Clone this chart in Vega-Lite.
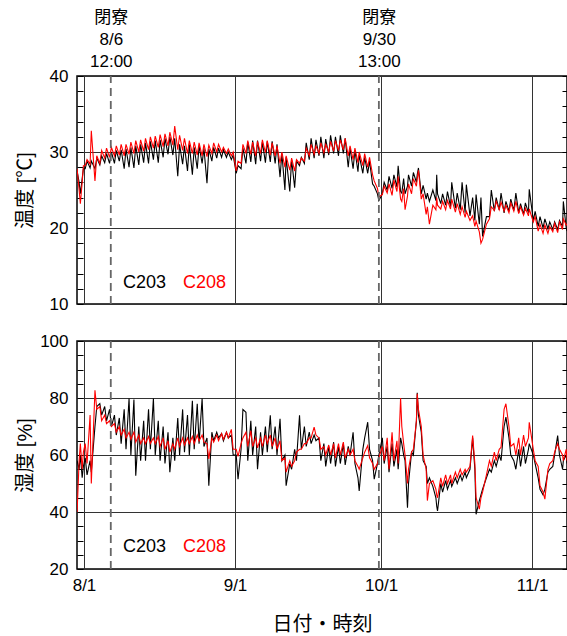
{
"$schema":"https://vega.github.io/schema/vega-lite/v6.json",
"padding":{"left":14,"top":7,"right":0,"bottom":5},
"spacing":37,
"bounds":"flush",
"config":{
 "font":"Liberation Sans, Noto Sans CJK JP, sans-serif",
 "view":{"stroke":"#000","strokeWidth":1.5},
 "axis":{"labelFontSize":17,"titleFontSize":20,"labelColor":"#000","titleColor":"#000","titleFontWeight":"normal","tickColor":"#000","tickWidth":1,"gridColor":"#333","gridWidth":1,"gridOpacity":1,"labelFlush":false,"labelOverlap":false}
},
"data":{"values":[
{"t":"2023-07-30T14:00","s":"C203","T":27.5,"H":58},{"t":"2023-07-30T14:00","s":"C208","T":27.8,"H":40},
{"t":"2023-07-31T00:00","s":"C203","T":26,"H":55},{"t":"2023-07-31T00:00","s":"C208","T":25,"H":58},
{"t":"2023-07-31T06:00","s":"C203","T":24.5,"H":60},{"t":"2023-07-31T06:00","s":"C208","T":23.2,"H":64},
{"t":"2023-07-31T15:00","s":"C203","T":26.5,"H":52},{"t":"2023-07-31T15:00","s":"C208","T":26,"H":55},
{"t":"2023-07-31T21:00","s":"C203","T":27.8,"H":56},{"t":"2023-07-31T21:00","s":"C208","T":28.2,"H":61},
{"t":"2023-08-01T06:00","s":"C203","T":27.8,"H":59},{"t":"2023-08-01T06:00","s":"C208","T":28.2,"H":64},
{"t":"2023-08-01T15:00","s":"C203","T":28.8,"H":53},{"t":"2023-08-01T15:00","s":"C208","T":29,"H":57},
{"t":"2023-08-02T06:00","s":"C203","T":27.9,"H":58},{"t":"2023-08-02T06:00","s":"C208","T":28.4,"H":74},
{"t":"2023-08-02T12:00","s":"C203","T":28.8,"H":54},{"t":"2023-08-02T12:00","s":"C208","T":32.8,"H":50},
{"t":"2023-08-03T06:00","s":"C203","T":27.8,"H":70},{"t":"2023-08-03T06:00","s":"C208","T":26.2,"H":82.7},
{"t":"2023-08-03T15:00","s":"C203","T":29.2,"H":77},{"t":"2023-08-03T15:00","s":"C208","T":29.5,"H":76},
{"t":"2023-08-04T06:00","s":"C203","T":28.3,"H":78},{"t":"2023-08-04T06:00","s":"C208","T":28.5,"H":77},
{"t":"2023-08-04T15:00","s":"C203","T":29.5,"H":74},{"t":"2023-08-04T15:00","s":"C208","T":30.2,"H":72},
{"t":"2023-08-05T06:00","s":"C203","T":28.6,"H":77},{"t":"2023-08-05T06:00","s":"C208","T":29.2,"H":74},
{"t":"2023-08-05T15:00","s":"C203","T":29.8,"H":72},{"t":"2023-08-05T15:00","s":"C208","T":30.5,"H":71},
{"t":"2023-08-06T06:00","s":"C203","T":28.5,"H":76},{"t":"2023-08-06T06:00","s":"C208","T":29.3,"H":72},
{"t":"2023-08-06T15:00","s":"C203","T":30,"H":70},{"t":"2023-08-06T15:00","s":"C208","T":30.6,"H":70},
{"t":"2023-08-07T06:00","s":"C203","T":28.5,"H":74},{"t":"2023-08-07T06:00","s":"C208","T":29.5,"H":71},
{"t":"2023-08-07T15:00","s":"C203","T":30.2,"H":67},{"t":"2023-08-07T15:00","s":"C208","T":30.8,"H":68},
{"t":"2023-08-08T06:00","s":"C203","T":28.8,"H":73},{"t":"2023-08-08T06:00","s":"C208","T":29.6,"H":70},
{"t":"2023-08-08T15:00","s":"C203","T":30.3,"H":64},{"t":"2023-08-08T15:00","s":"C208","T":31,"H":67},
{"t":"2023-08-09T06:00","s":"C203","T":27.8,"H":76},{"t":"2023-08-09T06:00","s":"C208","T":29.5,"H":69},
{"t":"2023-08-09T15:00","s":"C203","T":30.4,"H":62},{"t":"2023-08-09T15:00","s":"C208","T":31,"H":66},
{"t":"2023-08-10T06:00","s":"C203","T":28,"H":79.8},{"t":"2023-08-10T06:00","s":"C208","T":29.7,"H":68},
{"t":"2023-08-10T15:00","s":"C203","T":30.6,"H":60},{"t":"2023-08-10T15:00","s":"C208","T":31.3,"H":65.5},
{"t":"2023-08-11T06:00","s":"C203","T":27.9,"H":79.5},{"t":"2023-08-11T06:00","s":"C208","T":29.8,"H":68},
{"t":"2023-08-11T15:00","s":"C203","T":30.8,"H":52.7},{"t":"2023-08-11T15:00","s":"C208","T":31.5,"H":64.5},
{"t":"2023-08-12T06:00","s":"C203","T":28.3,"H":70},{"t":"2023-08-12T06:00","s":"C208","T":30,"H":67},
{"t":"2023-08-12T15:00","s":"C203","T":31,"H":58},{"t":"2023-08-12T15:00","s":"C208","T":31.6,"H":64},
{"t":"2023-08-13T06:00","s":"C203","T":28.6,"H":72},{"t":"2023-08-13T06:00","s":"C208","T":30.1,"H":66},
{"t":"2023-08-13T15:00","s":"C203","T":31.2,"H":58},{"t":"2023-08-13T15:00","s":"C208","T":31.8,"H":64},
{"t":"2023-08-14T06:00","s":"C203","T":28.5,"H":76},{"t":"2023-08-14T06:00","s":"C208","T":30.3,"H":66.5},
{"t":"2023-08-14T15:00","s":"C203","T":31.4,"H":62},{"t":"2023-08-14T15:00","s":"C208","T":32,"H":64},
{"t":"2023-08-15T06:00","s":"C203","T":29,"H":79.8},{"t":"2023-08-15T06:00","s":"C208","T":30.5,"H":66},
{"t":"2023-08-15T15:00","s":"C203","T":31.5,"H":60},{"t":"2023-08-15T15:00","s":"C208","T":32.1,"H":64},
{"t":"2023-08-16T06:00","s":"C203","T":28.6,"H":72},{"t":"2023-08-16T06:00","s":"C208","T":30.6,"H":66.5},
{"t":"2023-08-16T15:00","s":"C203","T":31.6,"H":58},{"t":"2023-08-16T15:00","s":"C208","T":32.3,"H":63},
{"t":"2023-08-17T06:00","s":"C203","T":29.3,"H":70},{"t":"2023-08-17T06:00","s":"C208","T":30.7,"H":66},
{"t":"2023-08-17T15:00","s":"C203","T":31.8,"H":57},{"t":"2023-08-17T15:00","s":"C208","T":32.4,"H":62},
{"t":"2023-08-18T06:00","s":"C203","T":29.7,"H":68},{"t":"2023-08-18T06:00","s":"C208","T":30.8,"H":65},
{"t":"2023-08-18T15:00","s":"C203","T":32,"H":54},{"t":"2023-08-18T15:00","s":"C208","T":32.6,"H":61},
{"t":"2023-08-19T06:00","s":"C203","T":29.6,"H":66},{"t":"2023-08-19T06:00","s":"C208","T":30.9,"H":64},
{"t":"2023-08-19T15:00","s":"C203","T":31.8,"H":58},{"t":"2023-08-19T15:00","s":"C208","T":33.4,"H":62},
{"t":"2023-08-20T06:00","s":"C203","T":26.8,"H":73},{"t":"2023-08-20T06:00","s":"C208","T":30.3,"H":66},
{"t":"2023-08-20T15:00","s":"C203","T":31,"H":60},{"t":"2023-08-20T15:00","s":"C208","T":32.2,"H":63},
{"t":"2023-08-21T06:00","s":"C203","T":28.4,"H":76},{"t":"2023-08-21T06:00","s":"C208","T":30.2,"H":66},
{"t":"2023-08-21T15:00","s":"C203","T":30.8,"H":61},{"t":"2023-08-21T15:00","s":"C208","T":31.8,"H":63.5},
{"t":"2023-08-22T06:00","s":"C203","T":27.5,"H":74},{"t":"2023-08-22T06:00","s":"C208","T":29.8,"H":66},
{"t":"2023-08-22T15:00","s":"C203","T":31,"H":60},{"t":"2023-08-22T15:00","s":"C208","T":31.5,"H":64},
{"t":"2023-08-23T06:00","s":"C203","T":27,"H":79},{"t":"2023-08-23T06:00","s":"C208","T":29.8,"H":66.5},
{"t":"2023-08-23T15:00","s":"C203","T":30.6,"H":62},{"t":"2023-08-23T15:00","s":"C208","T":31.3,"H":64},
{"t":"2023-08-24T06:00","s":"C203","T":27.8,"H":78},{"t":"2023-08-24T06:00","s":"C208","T":29.6,"H":67},
{"t":"2023-08-24T15:00","s":"C203","T":30.8,"H":64},{"t":"2023-08-24T15:00","s":"C208","T":31.2,"H":65},
{"t":"2023-08-25T06:00","s":"C203","T":28.5,"H":79.8},{"t":"2023-08-25T06:00","s":"C208","T":29.5,"H":67},
{"t":"2023-08-25T15:00","s":"C203","T":30.5,"H":63},{"t":"2023-08-25T15:00","s":"C208","T":31,"H":64.5},
{"t":"2023-08-26T06:00","s":"C203","T":25.9,"H":66},{"t":"2023-08-26T06:00","s":"C208","T":29.4,"H":64},
{"t":"2023-08-26T15:00","s":"C203","T":30.4,"H":49.2},{"t":"2023-08-26T15:00","s":"C208","T":30.9,"H":58.6},
{"t":"2023-08-27T06:00","s":"C203","T":28.8,"H":68},{"t":"2023-08-27T06:00","s":"C208","T":29.8,"H":66},
{"t":"2023-08-27T15:00","s":"C203","T":30.6,"H":65},{"t":"2023-08-27T15:00","s":"C208","T":31.2,"H":64.5},
{"t":"2023-08-28T06:00","s":"C203","T":29.2,"H":68},{"t":"2023-08-28T06:00","s":"C208","T":30,"H":67},
{"t":"2023-08-28T15:00","s":"C203","T":30.5,"H":66},{"t":"2023-08-28T15:00","s":"C208","T":31,"H":65},
{"t":"2023-08-29T06:00","s":"C203","T":29.3,"H":67.5},{"t":"2023-08-29T06:00","s":"C208","T":30,"H":67.5},
{"t":"2023-08-29T15:00","s":"C203","T":30.3,"H":65},{"t":"2023-08-29T15:00","s":"C208","T":30.6,"H":65.5},
{"t":"2023-08-30T06:00","s":"C203","T":29.3,"H":68},{"t":"2023-08-30T06:00","s":"C208","T":29.8,"H":68},
{"t":"2023-08-30T15:00","s":"C203","T":30,"H":66},{"t":"2023-08-30T15:00","s":"C208","T":30.4,"H":66},
{"t":"2023-08-31T06:00","s":"C203","T":29,"H":67},{"t":"2023-08-31T06:00","s":"C208","T":29.5,"H":69},
{"t":"2023-08-31T15:00","s":"C203","T":29.6,"H":60},{"t":"2023-08-31T15:00","s":"C208","T":30,"H":62},
{"t":"2023-09-01T06:00","s":"C203","T":27.2,"H":60},{"t":"2023-09-01T06:00","s":"C208","T":27.5,"H":62},
{"t":"2023-09-01T15:00","s":"C203","T":28.2,"H":51.5},{"t":"2023-09-01T15:00","s":"C208","T":28.8,"H":59.5},
{"t":"2023-09-02T06:00","s":"C203","T":27.8,"H":62},{"t":"2023-09-02T06:00","s":"C208","T":28.5,"H":64},
{"t":"2023-09-02T15:00","s":"C203","T":30.5,"H":76},{"t":"2023-09-02T15:00","s":"C208","T":31,"H":66},
{"t":"2023-09-03T06:00","s":"C203","T":28.5,"H":75},{"t":"2023-09-03T06:00","s":"C208","T":29.8,"H":68},
{"t":"2023-09-03T15:00","s":"C203","T":31.3,"H":58},{"t":"2023-09-03T15:00","s":"C208","T":31.5,"H":63},
{"t":"2023-09-04T06:00","s":"C203","T":28.7,"H":72},{"t":"2023-09-04T06:00","s":"C208","T":29.7,"H":68.5},
{"t":"2023-09-04T15:00","s":"C203","T":31.5,"H":60},{"t":"2023-09-04T15:00","s":"C208","T":31.3,"H":63},
{"t":"2023-09-05T06:00","s":"C203","T":28.4,"H":70},{"t":"2023-09-05T06:00","s":"C208","T":29.5,"H":66},
{"t":"2023-09-05T15:00","s":"C203","T":31.5,"H":55},{"t":"2023-09-05T15:00","s":"C208","T":31.4,"H":62.5},
{"t":"2023-09-06T06:00","s":"C203","T":28.8,"H":68},{"t":"2023-09-06T06:00","s":"C208","T":29.8,"H":66},
{"t":"2023-09-06T15:00","s":"C203","T":31.3,"H":60},{"t":"2023-09-06T15:00","s":"C208","T":31.6,"H":63},
{"t":"2023-09-07T06:00","s":"C203","T":28.6,"H":70},{"t":"2023-09-07T06:00","s":"C208","T":29.9,"H":67},
{"t":"2023-09-07T15:00","s":"C203","T":31.4,"H":61},{"t":"2023-09-07T15:00","s":"C208","T":31.5,"H":64},
{"t":"2023-09-08T06:00","s":"C203","T":28.7,"H":73.9},{"t":"2023-09-08T06:00","s":"C208","T":29.6,"H":67},
{"t":"2023-09-08T15:00","s":"C203","T":31.4,"H":62},{"t":"2023-09-08T15:00","s":"C208","T":31.2,"H":63},
{"t":"2023-09-09T06:00","s":"C203","T":28.5,"H":70},{"t":"2023-09-09T06:00","s":"C208","T":29.5,"H":66},
{"t":"2023-09-09T15:00","s":"C203","T":31,"H":60},{"t":"2023-09-09T15:00","s":"C208","T":30.8,"H":62},
{"t":"2023-09-10T06:00","s":"C203","T":26.7,"H":72.7},{"t":"2023-09-10T06:00","s":"C208","T":28.5,"H":65},
{"t":"2023-09-10T15:00","s":"C203","T":29.8,"H":58},{"t":"2023-09-10T15:00","s":"C208","T":30,"H":58},
{"t":"2023-09-11T06:00","s":"C203","T":25,"H":60},{"t":"2023-09-11T06:00","s":"C208","T":28,"H":59},
{"t":"2023-09-11T12:00","s":"C203","T":29.3,"H":49.2},{"t":"2023-09-11T12:00","s":"C208","T":29.5,"H":54},
{"t":"2023-09-12T06:00","s":"C203","T":24.8,"H":57},{"t":"2023-09-12T06:00","s":"C208","T":27.6,"H":58},
{"t":"2023-09-12T15:00","s":"C203","T":29,"H":55},{"t":"2023-09-12T15:00","s":"C208","T":29.2,"H":56},
{"t":"2023-09-13T06:00","s":"C203","T":25.3,"H":62},{"t":"2023-09-13T06:00","s":"C208","T":27.5,"H":58},
{"t":"2023-09-13T15:00","s":"C203","T":28.8,"H":58},{"t":"2023-09-13T15:00","s":"C208","T":29,"H":61},
{"t":"2023-09-14T06:00","s":"C203","T":28.2,"H":73.9},{"t":"2023-09-14T06:00","s":"C208","T":28.5,"H":62},
{"t":"2023-09-14T15:00","s":"C203","T":29.3,"H":62},{"t":"2023-09-14T15:00","s":"C208","T":29.2,"H":62},
{"t":"2023-09-15T06:00","s":"C203","T":28.5,"H":70},{"t":"2023-09-15T06:00","s":"C208","T":28.8,"H":64},
{"t":"2023-09-15T15:00","s":"C203","T":31.2,"H":63},{"t":"2023-09-15T15:00","s":"C208","T":30.5,"H":64},
{"t":"2023-09-16T06:00","s":"C203","T":29,"H":68},{"t":"2023-09-16T06:00","s":"C208","T":29.5,"H":66},
{"t":"2023-09-16T15:00","s":"C203","T":31.8,"H":64},{"t":"2023-09-16T15:00","s":"C208","T":31,"H":66},
{"t":"2023-09-17T06:00","s":"C203","T":29.2,"H":67},{"t":"2023-09-17T06:00","s":"C208","T":29.7,"H":69.8},
{"t":"2023-09-17T15:00","s":"C203","T":31.6,"H":65},{"t":"2023-09-17T15:00","s":"C208","T":30.8,"H":67},
{"t":"2023-09-18T06:00","s":"C203","T":29.5,"H":66},{"t":"2023-09-18T06:00","s":"C208","T":29.8,"H":66},
{"t":"2023-09-18T15:00","s":"C203","T":32,"H":58},{"t":"2023-09-18T15:00","s":"C208","T":31.2,"H":62},
{"t":"2023-09-19T06:00","s":"C203","T":29.2,"H":64},{"t":"2023-09-19T06:00","s":"C208","T":29.9,"H":63},
{"t":"2023-09-19T15:00","s":"C203","T":31.7,"H":56},{"t":"2023-09-19T15:00","s":"C208","T":31,"H":60},
{"t":"2023-09-20T06:00","s":"C203","T":29.6,"H":63},{"t":"2023-09-20T06:00","s":"C208","T":30,"H":63.5},
{"t":"2023-09-20T15:00","s":"C203","T":32.2,"H":57},{"t":"2023-09-20T15:00","s":"C208","T":31.4,"H":60},
{"t":"2023-09-21T06:00","s":"C203","T":29.8,"H":64.5},{"t":"2023-09-21T06:00","s":"C208","T":30.1,"H":64},
{"t":"2023-09-21T15:00","s":"C203","T":32,"H":56},{"t":"2023-09-21T15:00","s":"C208","T":31.5,"H":59},
{"t":"2023-09-22T06:00","s":"C203","T":29.5,"H":63},{"t":"2023-09-22T06:00","s":"C208","T":30.2,"H":64},
{"t":"2023-09-22T15:00","s":"C203","T":32.2,"H":57},{"t":"2023-09-22T15:00","s":"C208","T":31.6,"H":60},
{"t":"2023-09-23T06:00","s":"C203","T":29.8,"H":64},{"t":"2023-09-23T06:00","s":"C208","T":30.3,"H":64.5},
{"t":"2023-09-23T15:00","s":"C203","T":31.8,"H":56.5},{"t":"2023-09-23T15:00","s":"C208","T":31.8,"H":59},
{"t":"2023-09-24T06:00","s":"C203","T":28,"H":63},{"t":"2023-09-24T06:00","s":"C208","T":29.5,"H":62},
{"t":"2023-09-24T15:00","s":"C203","T":30.5,"H":60},{"t":"2023-09-24T15:00","s":"C208","T":30.8,"H":60},
{"t":"2023-09-25T06:00","s":"C203","T":27.8,"H":68},{"t":"2023-09-25T06:00","s":"C208","T":29,"H":62},
{"t":"2023-09-25T15:00","s":"C203","T":30.2,"H":57},{"t":"2023-09-25T15:00","s":"C208","T":30.5,"H":58},
{"t":"2023-09-26T06:00","s":"C203","T":27.4,"H":52},{"t":"2023-09-26T06:00","s":"C208","T":28.6,"H":56},
{"t":"2023-09-26T12:00","s":"C203","T":29.6,"H":47.4},{"t":"2023-09-26T12:00","s":"C208","T":30,"H":55},
{"t":"2023-09-27T06:00","s":"C203","T":27.2,"H":62},{"t":"2023-09-27T06:00","s":"C208","T":28.2,"H":59},
{"t":"2023-09-27T15:00","s":"C203","T":29.3,"H":66},{"t":"2023-09-27T15:00","s":"C208","T":29.8,"H":61},
{"t":"2023-09-28T06:00","s":"C203","T":27.2,"H":71.5},{"t":"2023-09-28T06:00","s":"C208","T":28,"H":63.3},
{"t":"2023-09-28T15:00","s":"C203","T":28.8,"H":62},{"t":"2023-09-28T15:00","s":"C208","T":29.3,"H":59},
{"t":"2023-09-29T06:00","s":"C203","T":25.8,"H":58},{"t":"2023-09-29T06:00","s":"C208","T":27,"H":57},
{"t":"2023-09-29T14:00","s":"C203","T":25.5,"H":51.5},{"t":"2023-09-29T14:00","s":"C208","T":26.2,"H":55},
{"t":"2023-09-30T06:00","s":"C203","T":24.5,"H":57},{"t":"2023-09-30T06:00","s":"C208","T":25.2,"H":57},
{"t":"2023-09-30T13:00","s":"C203","T":23.6,"H":60},{"t":"2023-09-30T13:00","s":"C208","T":24.1,"H":59},
{"t":"2023-10-01T06:00","s":"C203","T":24.5,"H":66},{"t":"2023-10-01T06:00","s":"C208","T":24.4,"H":63},
{"t":"2023-10-01T15:00","s":"C203","T":26,"H":57},{"t":"2023-10-01T15:00","s":"C208","T":25.5,"H":58},
{"t":"2023-10-02T06:00","s":"C203","T":25,"H":63},{"t":"2023-10-02T06:00","s":"C208","T":24.6,"H":66},
{"t":"2023-10-02T15:00","s":"C203","T":26.8,"H":54},{"t":"2023-10-02T15:00","s":"C208","T":25.8,"H":55},
{"t":"2023-10-03T06:00","s":"C203","T":25.2,"H":64},{"t":"2023-10-03T06:00","s":"C208","T":24.3,"H":68},
{"t":"2023-10-03T15:00","s":"C203","T":27,"H":56},{"t":"2023-10-03T15:00","s":"C208","T":26.3,"H":58},
{"t":"2023-10-04T06:00","s":"C203","T":25.4,"H":62},{"t":"2023-10-04T06:00","s":"C208","T":24.8,"H":65},
{"t":"2023-10-04T12:00","s":"C203","T":28.2,"H":55},{"t":"2023-10-04T12:00","s":"C208","T":26.8,"H":57},
{"t":"2023-10-05T00:00","s":"C203","T":24.8,"H":66},{"t":"2023-10-05T00:00","s":"C208","T":23.8,"H":80},
{"t":"2023-10-05T06:00","s":"C203","T":24.6,"H":64},{"t":"2023-10-05T06:00","s":"C208","T":23.5,"H":70},
{"t":"2023-10-05T15:00","s":"C203","T":26.5,"H":60},{"t":"2023-10-05T15:00","s":"C208","T":25.2,"H":64},
{"t":"2023-10-05T22:00","s":"C203","T":24.5,"H":58},{"t":"2023-10-05T22:00","s":"C208","T":22.4,"H":60},
{"t":"2023-10-06T10:00","s":"C203","T":25.5,"H":41.5},{"t":"2023-10-06T10:00","s":"C208","T":24.2,"H":50},
{"t":"2023-10-06T15:00","s":"C203","T":27,"H":50},{"t":"2023-10-06T15:00","s":"C208","T":25.8,"H":55},
{"t":"2023-10-07T06:00","s":"C203","T":25.5,"H":61},{"t":"2023-10-07T06:00","s":"C208","T":24.5,"H":61},
{"t":"2023-10-07T15:00","s":"C203","T":27.3,"H":60},{"t":"2023-10-07T15:00","s":"C208","T":26.5,"H":62},
{"t":"2023-10-08T06:00","s":"C203","T":26,"H":72},{"t":"2023-10-08T06:00","s":"C208","T":25.5,"H":72},
{"t":"2023-10-08T10:00","s":"C203","T":27,"H":81.8},{"t":"2023-10-08T10:00","s":"C208","T":26.5,"H":81.5},
{"t":"2023-10-08T16:00","s":"C203","T":27.9,"H":74},{"t":"2023-10-08T16:00","s":"C208","T":27.6,"H":76},
{"t":"2023-10-09T06:00","s":"C203","T":24.5,"H":68},{"t":"2023-10-09T06:00","s":"C208","T":23.8,"H":70},
{"t":"2023-10-09T15:00","s":"C203","T":25.6,"H":58},{"t":"2023-10-09T15:00","s":"C208","T":24.5,"H":60},
{"t":"2023-10-10T06:00","s":"C203","T":23.8,"H":56},{"t":"2023-10-10T06:00","s":"C208","T":21.8,"H":55},
{"t":"2023-10-10T12:00","s":"C203","T":24.6,"H":50},{"t":"2023-10-10T12:00","s":"C208","T":22.8,"H":44},
{"t":"2023-10-10T22:00","s":"C203","T":23.5,"H":52},{"t":"2023-10-10T22:00","s":"C208","T":20.5,"H":50},
{"t":"2023-10-11T15:00","s":"C203","T":25,"H":49},{"t":"2023-10-11T15:00","s":"C208","T":23,"H":51},
{"t":"2023-10-12T06:00","s":"C203","T":23.6,"H":45},{"t":"2023-10-12T06:00","s":"C208","T":22.4,"H":48},
{"t":"2023-10-12T10:00","s":"C203","T":27,"H":42},{"t":"2023-10-12T10:00","s":"C208","T":24,"H":46},
{"t":"2023-10-12T14:00","s":"C203","T":24.5,"H":40.4},{"t":"2023-10-12T14:00","s":"C208","T":23,"H":45},
{"t":"2023-10-13T06:00","s":"C203","T":23.2,"H":50},{"t":"2023-10-13T06:00","s":"C208","T":22.5,"H":52},
{"t":"2023-10-13T15:00","s":"C203","T":24.5,"H":47},{"t":"2023-10-13T15:00","s":"C208","T":23.5,"H":49},
{"t":"2023-10-14T06:00","s":"C203","T":23,"H":51},{"t":"2023-10-14T06:00","s":"C208","T":22.4,"H":53},
{"t":"2023-10-14T15:00","s":"C203","T":24.8,"H":48},{"t":"2023-10-14T15:00","s":"C208","T":23.6,"H":50},
{"t":"2023-10-15T06:00","s":"C203","T":22.8,"H":51},{"t":"2023-10-15T06:00","s":"C208","T":22.5,"H":53},
{"t":"2023-10-15T12:00","s":"C203","T":26,"H":49},{"t":"2023-10-15T12:00","s":"C208","T":23.8,"H":50},
{"t":"2023-10-16T06:00","s":"C203","T":22.6,"H":52},{"t":"2023-10-16T06:00","s":"C208","T":22.1,"H":54},
{"t":"2023-10-16T15:00","s":"C203","T":24.6,"H":50},{"t":"2023-10-16T15:00","s":"C208","T":23.2,"H":52},
{"t":"2023-10-17T06:00","s":"C203","T":22.4,"H":53},{"t":"2023-10-17T06:00","s":"C208","T":21.8,"H":55},
{"t":"2023-10-17T15:00","s":"C203","T":26,"H":51},{"t":"2023-10-17T15:00","s":"C208","T":22.8,"H":53},
{"t":"2023-10-18T06:00","s":"C203","T":22,"H":54},{"t":"2023-10-18T06:00","s":"C208","T":21.4,"H":55},
{"t":"2023-10-18T12:00","s":"C203","T":25.7,"H":52},{"t":"2023-10-18T12:00","s":"C208","T":22.2,"H":54},
{"t":"2023-10-19T06:00","s":"C203","T":21.6,"H":55},{"t":"2023-10-19T06:00","s":"C208","T":21,"H":56},
{"t":"2023-10-19T19:00","s":"C203","T":24,"H":66},{"t":"2023-10-19T19:00","s":"C208","T":21.6,"H":66.8},
{"t":"2023-10-20T06:00","s":"C203","T":21,"H":55},{"t":"2023-10-20T06:00","s":"C208","T":20.2,"H":57},
{"t":"2023-10-20T12:00","s":"C203","T":24.4,"H":39.2},{"t":"2023-10-20T12:00","s":"C208","T":20.9,"H":45},
{"t":"2023-10-21T04:00","s":"C203","T":20.5,"H":44},{"t":"2023-10-21T04:00","s":"C208","T":19.5,"H":41},
{"t":"2023-10-21T12:00","s":"C203","T":24,"H":46},{"t":"2023-10-21T12:00","s":"C208","T":18,"H":45},
{"t":"2023-10-21T20:00","s":"C203","T":18.9,"H":48},{"t":"2023-10-21T20:00","s":"C208","T":18.5,"H":47},
{"t":"2023-10-22T15:00","s":"C203","T":21.5,"H":52},{"t":"2023-10-22T15:00","s":"C208","T":20.5,"H":53},
{"t":"2023-10-23T06:00","s":"C203","T":21.5,"H":55},{"t":"2023-10-23T06:00","s":"C208","T":21.2,"H":58},
{"t":"2023-10-23T15:00","s":"C203","T":25,"H":54},{"t":"2023-10-23T15:00","s":"C208","T":22.8,"H":56},
{"t":"2023-10-24T06:00","s":"C203","T":22.2,"H":58},{"t":"2023-10-24T06:00","s":"C208","T":22.3,"H":61},
{"t":"2023-10-24T15:00","s":"C203","T":24,"H":56},{"t":"2023-10-24T15:00","s":"C208","T":23.5,"H":58},
{"t":"2023-10-25T06:00","s":"C203","T":22.4,"H":60},{"t":"2023-10-25T06:00","s":"C208","T":22.4,"H":62},
{"t":"2023-10-25T15:00","s":"C203","T":24.6,"H":58},{"t":"2023-10-25T15:00","s":"C208","T":23.4,"H":62.7},
{"t":"2023-10-26T06:00","s":"C203","T":22,"H":70},{"t":"2023-10-26T06:00","s":"C208","T":22.2,"H":76},
{"t":"2023-10-26T15:00","s":"C203","T":23.5,"H":73.3},{"t":"2023-10-26T15:00","s":"C208","T":23,"H":78},
{"t":"2023-10-27T06:00","s":"C203","T":22.2,"H":66},{"t":"2023-10-27T06:00","s":"C208","T":22,"H":70},
{"t":"2023-10-27T15:00","s":"C203","T":23.8,"H":60},{"t":"2023-10-27T15:00","s":"C208","T":23.3,"H":63},
{"t":"2023-10-28T06:00","s":"C203","T":22.3,"H":58},{"t":"2023-10-28T06:00","s":"C208","T":22.2,"H":64},
{"t":"2023-10-28T16:00","s":"C203","T":24.6,"H":55},{"t":"2023-10-28T16:00","s":"C208","T":23.5,"H":60},
{"t":"2023-10-29T06:00","s":"C203","T":22,"H":62},{"t":"2023-10-29T06:00","s":"C208","T":21.9,"H":66},
{"t":"2023-10-29T15:00","s":"C203","T":23.2,"H":56},{"t":"2023-10-29T15:00","s":"C208","T":22.8,"H":60},
{"t":"2023-10-30T06:00","s":"C203","T":21.8,"H":63},{"t":"2023-10-30T06:00","s":"C208","T":21.7,"H":67},
{"t":"2023-10-30T15:00","s":"C203","T":23.3,"H":57},{"t":"2023-10-30T15:00","s":"C208","T":22.6,"H":63},
{"t":"2023-10-31T06:00","s":"C203","T":22,"H":62},{"t":"2023-10-31T06:00","s":"C208","T":21.6,"H":66},
{"t":"2023-10-31T10:00","s":"C203","T":25.1,"H":64},{"t":"2023-10-31T10:00","s":"C208","T":22.5,"H":71.5},
{"t":"2023-11-01T06:00","s":"C203","T":21,"H":60},{"t":"2023-11-01T06:00","s":"C208","T":20.8,"H":62},
{"t":"2023-11-01T15:00","s":"C203","T":22.2,"H":57},{"t":"2023-11-01T15:00","s":"C208","T":21.5,"H":58},
{"t":"2023-11-02T06:00","s":"C203","T":20.2,"H":52},{"t":"2023-11-02T06:00","s":"C208","T":19.6,"H":56},
{"t":"2023-11-02T15:00","s":"C203","T":21.5,"H":48},{"t":"2023-11-02T15:00","s":"C208","T":20.5,"H":49.2},
{"t":"2023-11-03T06:00","s":"C203","T":20,"H":46},{"t":"2023-11-03T06:00","s":"C208","T":19.3,"H":47},
{"t":"2023-11-03T15:00","s":"C203","T":21.2,"H":48},{"t":"2023-11-03T15:00","s":"C208","T":20.4,"H":44.5},
{"t":"2023-11-04T06:00","s":"C203","T":19.9,"H":54},{"t":"2023-11-04T06:00","s":"C208","T":19.3,"H":55},
{"t":"2023-11-04T15:00","s":"C203","T":20.8,"H":55},{"t":"2023-11-04T15:00","s":"C208","T":20.2,"H":57},
{"t":"2023-11-05T06:00","s":"C203","T":19.8,"H":56},{"t":"2023-11-05T06:00","s":"C208","T":19.5,"H":58},
{"t":"2023-11-05T15:00","s":"C203","T":20.8,"H":60},{"t":"2023-11-05T15:00","s":"C208","T":20.6,"H":61},
{"t":"2023-11-06T06:00","s":"C203","T":19.8,"H":66.8},{"t":"2023-11-06T06:00","s":"C208","T":19.4,"H":64},
{"t":"2023-11-06T15:00","s":"C203","T":21,"H":60},{"t":"2023-11-06T15:00","s":"C208","T":20.8,"H":62},
{"t":"2023-11-07T06:00","s":"C203","T":20.2,"H":55},{"t":"2023-11-07T06:00","s":"C208","T":19.8,"H":60},
{"t":"2023-11-07T10:00","s":"C203","T":23.5,"H":58},{"t":"2023-11-07T10:00","s":"C208","T":21.2,"H":58},
{"t":"2023-11-08T00:00","s":"C203","T":20,"H":60},{"t":"2023-11-08T00:00","s":"C208","T":20.4,"H":62},
{"t":"2023-11-08T04:00","s":"C203","T":19.6,"H":57},{"t":"2023-11-08T04:00","s":"C208","T":20.5,"H":58}
]},
"vconcat":[
 {
  "width":490,"height":228,
  "layer":[
   {
    "mark":{"type":"line","strokeWidth":1.1,"clip":true},
    "encoding":{
     "x":{"field":"t","type":"temporal","scale":{"domain":[{"year":2023,"month":7,"date":30,"hours":13,"minutes":30},{"year":2023,"month":11,"date":8,"hours":4}]},
      "axis":{"orient":"bottom","values":[{"year":2023,"month":8,"date":1},{"year":2023,"month":9,"date":1},{"year":2023,"month":10,"date":1},{"year":2023,"month":11,"date":1}],"labels":false,"ticks":false,"domain":false,"grid":true,"title":null}},
     "y":{"field":"T","type":"quantitative","scale":{"domain":[10,40],"nice":false,"zero":false},
      "axis":{"orient":"left","values":[10,12,14,16,18,20,22,24,26,28,30,32,34,36,38,40],"labelExpr":"datum.value % 10 === 0 ? datum.label : ''","tickSize":-6,"labelPadding":15,"domain":false,"grid":true,"gridColor":{"condition":{"test":"datum.value % 10 === 0","value":"#333333"},"value":"rgba(0,0,0,0)"},"title":"温度  [℃]","minExtent":38,"maxExtent":38,"titlePadding":4}},
     "color":{"field":"s","type":"nominal","scale":{"domain":["C203","C208"],"range":["#000000","#ff0000"]},"legend":null}
    }
   },
   {
    "data":{"values":[{"t":"2023-08-06T12:00"},{"t":"2023-09-30T13:00"}]},
    "mark":{"type":"rule","strokeDash":[8,5],"color":"#666666","strokeWidth":1.8},
    "encoding":{
     "x":{"field":"t","type":"temporal","axis":{"orient":"top","values":[{"year":2023,"month":8,"date":6,"hours":12},{"year":2023,"month":9,"date":30,"hours":13}],"labelExpr":"['閉寮', timeFormat(datum.value, '%-m/%-d'), timeFormat(datum.value, '%H:%M')]","labelLineHeight":22,"labelPadding":50,"ticks":false,"domain":false,"grid":false,"title":null}},
     "y":{"datum":10,"type":"quantitative","axis":{"orient":"right","values":[10,12,14,16,18,20,22,24,26,28,30,32,34,36,38,40],"labels":false,"tickSize":-5,"domain":false,"grid":false,"title":null}},
     "y2":{"datum":40}
    }
   },
   {
    "data":{"values":[{"s":"C203"}]},
    "mark":{"type":"text","align":"left","baseline":"middle","fontSize":18},
    "encoding":{
     "x":{"datum":{"year":2023,"month":8,"date":9,"hours":0},"type":"temporal","axis":null},
     "y":{"datum":12.8,"type":"quantitative","axis":null},
     "text":{"field":"s"},
     "color":{"field":"s","type":"nominal","legend":null}
    }
   },
   {
    "data":{"values":[{"s":"C208"}]},
    "mark":{"type":"text","align":"left","baseline":"middle","fontSize":18},
    "encoding":{
     "x":{"datum":{"year":2023,"month":8,"date":21,"hours":8},"type":"temporal","axis":null},
     "y":{"datum":12.8,"type":"quantitative","axis":null},
     "text":{"field":"s"},
     "color":{"field":"s","type":"nominal","legend":null}
    }
   }
  ],
  "resolve":{"axis":{"x":"independent","y":"independent"}}
 },
 {
  "width":490,"height":228,
  "layer":[
   {
    "mark":{"type":"line","strokeWidth":1.1,"clip":true},
    "encoding":{
     "x":{"field":"t","type":"temporal","scale":{"domain":[{"year":2023,"month":7,"date":30,"hours":13,"minutes":30},{"year":2023,"month":11,"date":8,"hours":4}]},
      "axis":{"orient":"bottom","values":[{"year":2023,"month":8,"date":1},{"year":2023,"month":9,"date":1},{"year":2023,"month":10,"date":1},{"year":2023,"month":11,"date":1}],"format":"%-m/%-d","labelPadding":8,"ticks":false,"domain":false,"grid":true,"title":"日付・時刻","titlePadding":21}},
     "y":{"field":"H","type":"quantitative","scale":{"domain":[20,100],"nice":false,"zero":false},
      "axis":{"orient":"left","values":[20,25,30,35,40,45,50,55,60,65,70,75,80,85,90,95,100],"labelExpr":"datum.value % 20 === 0 ? datum.label : ''","tickSize":-6,"labelPadding":15,"domain":false,"grid":true,"gridColor":{"condition":{"test":"datum.value % 20 === 0","value":"#333333"},"value":"rgba(0,0,0,0)"},"title":"湿度  [%]","minExtent":38,"maxExtent":38,"titlePadding":4}},
     "color":{"field":"s","type":"nominal","scale":{"domain":["C203","C208"],"range":["#000000","#ff0000"]},"legend":null}
    }
   },
   {
    "data":{"values":[{"t":"2023-08-06T12:00"},{"t":"2023-09-30T13:00"}]},
    "mark":{"type":"rule","strokeDash":[8,5],"color":"#666666","strokeWidth":1.8},
    "encoding":{
     "x":{"field":"t","type":"temporal","axis":null},
     "y":{"datum":20,"type":"quantitative","axis":{"orient":"right","values":[20,25,30,35,40,45,50,55,60,65,70,75,80,85,90,95,100],"labels":false,"tickSize":-5,"domain":false,"grid":false,"title":null}},
     "y2":{"datum":100}
    }
   },
   {
    "data":{"values":[{"s":"C203"}]},
    "mark":{"type":"text","align":"left","baseline":"middle","fontSize":18},
    "encoding":{
     "x":{"datum":{"year":2023,"month":8,"date":9,"hours":0},"type":"temporal","axis":null},
     "y":{"datum":27.7,"type":"quantitative","axis":null},
     "text":{"field":"s"},
     "color":{"field":"s","type":"nominal","legend":null}
    }
   },
   {
    "data":{"values":[{"s":"C208"}]},
    "mark":{"type":"text","align":"left","baseline":"middle","fontSize":18},
    "encoding":{
     "x":{"datum":{"year":2023,"month":8,"date":21,"hours":8},"type":"temporal","axis":null},
     "y":{"datum":27.7,"type":"quantitative","axis":null},
     "text":{"field":"s"},
     "color":{"field":"s","type":"nominal","legend":null}
    }
   }
  ],
  "resolve":{"axis":{"x":"independent","y":"independent"}}
 }
],
"resolve":{"scale":{"y":"independent"}}
}
